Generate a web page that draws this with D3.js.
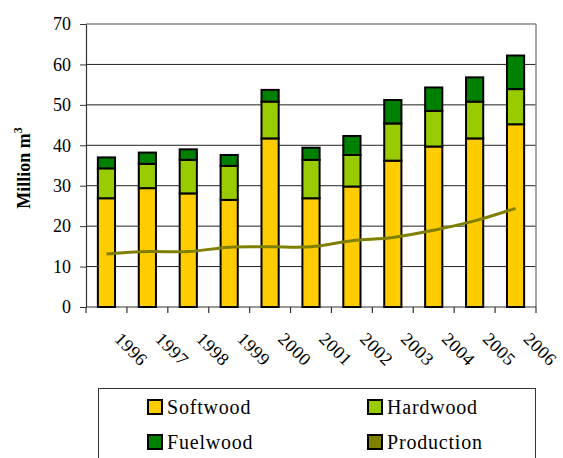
<!DOCTYPE html>
<html>
<head>
<meta charset="utf-8">
<script src="https://cdn.jsdelivr.net/npm/d3@7"></script>
<style>
html,body{margin:0;padding:0;background:#fff;}
svg{display:block;}
</style>
</head>
<body>
<svg id="chart" width="563" height="458"></svg>
<script>
const years = ["1996","1997","1998","1999","2000","2001","2002","2003","2004","2005","2006"];
const softwood = [26.9, 29.4, 28.1, 26.5, 41.7, 26.9, 29.8, 36.2, 39.7, 41.7, 45.2];
const hardwood = [7.4, 6.0, 8.3, 8.4, 9.1, 9.5, 7.8, 9.2, 8.8, 9.1, 8.7];
const fuelwood = [2.7, 2.8, 2.6, 2.7, 2.9, 3.0, 4.7, 5.8, 5.8, 6.0, 8.3];
const production = [13.1, 13.7, 13.7, 14.8, 14.9, 14.9, 16.4, 17.2, 19.0, 21.3, 24.4];
const yTicks = [0, 10, 20, 30, 40, 50, 60, 70];
const seriesNames = ["Softwood", "Hardwood", "Fuelwood", "Production"];
const colors = {Softwood:"#FFCC00", Hardwood:"#99CC00", Fuelwood:"#008000", Production:"#808000"};

const FONT = "'Liberation Serif', 'Times New Roman', Times, serif";
const svg = d3.select("#chart").style("font-family", FONT);
const L = 86, R = 536, T = 24, B = 307;

const x = d3.scaleBand().domain(years).range([L, R]).paddingInner(0.58).paddingOuter(0.29);
const y = d3.scaleLinear().domain([0, 70]).range([B, T]);

// gridlines
svg.append("g").selectAll("line").data(yTicks.filter(d => d > 0 && d < 70)).join("line")
  .attr("x1", L).attr("x2", R).attr("y1", d => y(d)).attr("y2", d => y(d))
  .attr("stroke", "#222").attr("stroke-width", 1);
svg.append("line").attr("x1", L).attr("x2", R).attr("y1", y(70)).attr("y2", y(70)).attr("stroke", "#888").attr("stroke-width", 1.5);
svg.append("line").attr("x1", R).attr("x2", R).attr("y1", y(70)).attr("y2", B).attr("stroke", "#888").attr("stroke-width", 1.5);

// y axis
const yAxis = d3.axisLeft(y).tickValues(yTicks).tickSize(6).tickPadding(9).tickSizeOuter(0);
const gy = svg.append("g").attr("transform", `translate(${L},0)`).call(yAxis)
  .attr("font-family", null).attr("font-size", null);
gy.select(".domain").attr("stroke", "#333").attr("stroke-width", 1.2);
gy.selectAll(".tick line").attr("stroke", "#333");
gy.selectAll("text").style("font-family", FONT).style("font-size", "18px").attr("fill", "#000");

// x axis baseline and ticks between categories
svg.append("line").attr("x1", L).attr("x2", R).attr("y1", B).attr("y2", B).attr("stroke", "#333").attr("stroke-width", 1.2);
const bounds = d3.range(years.length + 1).map(i => L + i * (R - L) / years.length);
svg.append("g").selectAll("line").data(bounds).join("line")
  .attr("x1", d => d).attr("x2", d => d).attr("y1", B).attr("y2", B + 6)
  .attr("stroke", "#333").attr("stroke-width", 1.2);

// x labels
svg.append("g").selectAll("text").data(years).join("text")
  .attr("transform", d => `translate(${x(d) + x.bandwidth()/2 + 7},340) rotate(45)`)
  .attr("text-anchor", "start")
  .style("font-family", FONT).style("font-size", "18px")
  .attr("letter-spacing", 0.5)
  .text(d => d);

// stacked bars
const rows = years.map((yr, i) => ({year: yr, Softwood: softwood[i], Hardwood: hardwood[i], Fuelwood: fuelwood[i]}));
const stack = d3.stack().keys(["Softwood", "Hardwood", "Fuelwood"])(rows);
svg.append("g").selectAll("g").data(stack).join("g")
  .attr("fill", d => colors[d.key])
  .selectAll("rect").data(d => d).join("rect")
  .attr("x", d => x(d.data.year))
  .attr("width", x.bandwidth())
  .attr("y", d => y(d[1]))
  .attr("height", d => y(d[0]) - y(d[1]))
  .attr("stroke", "#000").attr("stroke-width", 2);

// production line
const line = d3.line()
  .x((d, i) => x(years[i]) + x.bandwidth()/2)
  .y(d => y(d))
  .curve(d3.curveCatmullRom.alpha(0.5));
svg.append("path").datum(production).attr("d", line)
  .attr("fill", "none").attr("stroke", colors.Production).attr("stroke-width", 3);

// y axis title
const yt = svg.append("text")
  .attr("transform", "translate(30,168) rotate(-90)")
  .attr("text-anchor", "middle")
  .style("font-family", FONT).style("font-size", "18px").attr("font-weight", "bold");
yt.append("tspan").text("Million m");
yt.append("tspan").attr("dy", -8).style("font-size", "12px").text("3");

// legend
svg.append("rect").attr("x", 98.5).attr("y", 388.5).attr("width", 437).attr("height", 90)
  .attr("fill", "none").attr("stroke", "#333").attr("stroke-width", 1);
const legPos = [[147, 400], [367, 400], [147, 435], [367, 435]];
const lg = svg.append("g").selectAll("g").data(seriesNames).join("g")
  .attr("transform", (d, i) => `translate(${legPos[i][0]},${legPos[i][1]})`);
lg.append("rect").attr("x", 1).attr("y", 0).attr("width", 14).attr("height", 14)
  .attr("fill", d => colors[d]).attr("stroke", "#000").attr("stroke-width", 2);
lg.append("text").attr("x", 20).attr("y", 14)
  .style("font-family", FONT).style("font-size", "20px")
  .attr("letter-spacing", 0.8).text(d => d);
</script>
</body>
</html>
